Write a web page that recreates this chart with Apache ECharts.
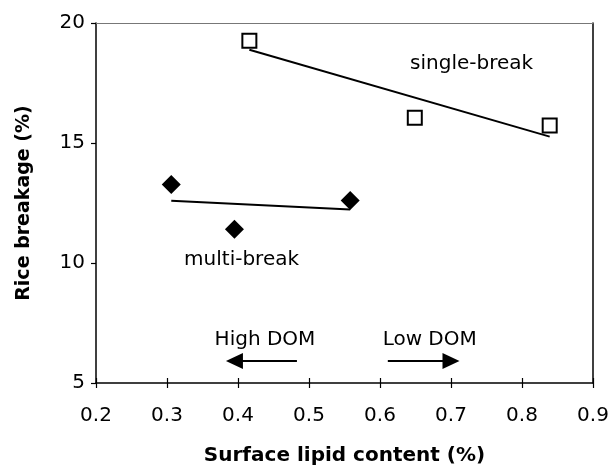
<!DOCTYPE html>
<html>
<head>
<meta charset="utf-8">
<script src="https://cdn.jsdelivr.net/npm/echarts@6/dist/echarts.min.js"></script>
<style>
html,body{margin:0;padding:0;background:#fff;}
#chart{width:613px;height:466px;}
</style>
</head>
<body>
<div id="chart"></div>
<script>
// ---- data ----
var singleX = [0.416, 0.649, 0.839];
var singleY = [19.26, 16.05, 15.73];
var multiX = [0.306, 0.395, 0.558];
var multiY = [13.27, 11.41, 12.60];
var xTicks = [0.2, 0.3, 0.4, 0.5, 0.6, 0.7, 0.8, 0.9];
var yTicks = [5, 10, 15, 20];
var xTitle = 'Surface lipid content (%)';
var yTitle = 'Rice breakage (%)';
var annotationTexts = ['single-break', 'multi-break', 'High DOM', 'Low DOM'];

function pairs(xs, ys) { return xs.map(function (x, i) { return [x, ys[i]]; }); }
function fitLine(xs, ys) {
  var n = xs.length, mx = 0, my = 0;
  for (var i = 0; i < n; i++) { mx += xs[i]; my += ys[i]; }
  mx /= n; my /= n;
  var sxy = 0, sxx = 0;
  for (var j = 0; j < n; j++) { sxy += (xs[j] - mx) * (ys[j] - my); sxx += (xs[j] - mx) * (xs[j] - mx); }
  var b = sxy / sxx, a = my - b * mx;
  var x0 = Math.min.apply(null, xs), x1 = Math.max.apply(null, xs);
  return [[x0, a + b * x0], [x1, a + b * x1]];
}

var FONT = 'DejaVu Sans';
var chart = echarts.init(document.getElementById('chart'), null, {renderer: 'canvas'});

var xCommon = {
  type: 'value', min: xTicks[0], max: xTicks[xTicks.length - 1], interval: 0.1,
  splitLine: {show: false}
};
var yCommon = {
  type: 'value', min: yTicks[0], max: yTicks[yTicks.length - 1], interval: 5,
  splitLine: {show: false}
};

var option = {
  backgroundColor: '#fff',
  animation: false,
  grid: {left: 96, right: 20, top: 23, bottom: 83, show: false, containLabel: false, outerBoundsMode: 'none'},
  xAxis: [
    Object.assign({}, xCommon, {
      position: 'bottom',
      axisLine: {show: true, onZero: false, lineStyle: {color: '#000', width: 1.5}},
      axisTick: {show: true, inside: false, length: 5, lineStyle: {color: '#000', width: 1.2}},
      axisLabel: {show: true, margin: 23, color: '#000', fontFamily: FONT, fontSize: 20,
        formatter: function (v) { return v.toFixed(1); }},
      name: xTitle, nameLocation: 'middle', nameGap: 63,
      nameTextStyle: {color: '#000', fontFamily: FONT, fontWeight: 'bold', fontSize: 20}
    }),
    Object.assign({}, xCommon, {
      position: 'bottom',
      axisLine: {show: false, onZero: false},
      axisTick: {show: true, inside: true, length: 5, lineStyle: {color: '#000', width: 1.2}},
      axisLabel: {show: false}
    }),
    Object.assign({}, xCommon, {
      position: 'top',
      axisLine: {show: true, onZero: false, lineStyle: {color: '#777', width: 1}},
      axisTick: {show: false},
      axisLabel: {show: false}
    })
  ],
  yAxis: [
    Object.assign({}, yCommon, {
      position: 'left',
      axisLine: {show: true, onZero: false, lineStyle: {color: '#000', width: 1.5}},
      axisTick: {show: true, inside: false, length: 5, lineStyle: {color: '#000', width: 1.2}},
      axisLabel: {show: true, margin: 11, color: '#000', fontFamily: FONT, fontSize: 20},
      name: yTitle, nameLocation: 'middle', nameGap: 62,
      nameTextStyle: {color: '#000', fontFamily: FONT, fontWeight: 'bold', fontSize: 19}
    }),
    Object.assign({}, yCommon, {
      position: 'right',
      axisLine: {show: true, onZero: false, lineStyle: {color: '#000', width: 1.5}},
      axisTick: {show: false},
      axisLabel: {show: false}
    })
  ],
  series: [
    {
      name: 'single-break fit', type: 'line', xAxisIndex: 0, yAxisIndex: 0,
      data: fitLine(singleX, singleY), symbol: 'none',
      lineStyle: {color: '#000', width: 2}, silent: true
    },
    {
      name: 'multi-break fit', type: 'line', xAxisIndex: 0, yAxisIndex: 0,
      data: fitLine(multiX, multiY), symbol: 'none',
      lineStyle: {color: '#000', width: 2}, silent: true
    },
    {
      name: 'single-break', type: 'scatter', xAxisIndex: 0, yAxisIndex: 0,
      data: pairs(singleX, singleY), symbol: 'rect', symbolSize: 14,
      itemStyle: {color: '#fff', borderColor: '#000', borderWidth: 2, opacity: 1}
    },
    {
      name: 'multi-break', type: 'scatter', xAxisIndex: 0, yAxisIndex: 0,
      data: pairs(multiX, multiY), symbol: 'diamond', symbolSize: 19,
      itemStyle: {color: '#000', opacity: 1}
    },
    {
      name: 'arrows', type: 'line', xAxisIndex: 0, yAxisIndex: 0, data: [],
      markLine: {
        silent: true, symbol: ['none', 'triangle'], symbolSize: [16, 17],
        lineStyle: {color: '#000', width: 2, type: 'solid'},
        label: {show: false},
        data: [
          [{coord: [0.483, 5.92]}, {coord: [0.395, 5.92]}],
          [{coord: [0.611, 5.92]}, {coord: [0.700, 5.92]}]
        ]
      }
    }
  ]
};
chart.setOption(option);

// text annotations placed in data coordinates
var annotationPos = [[0.729, 18.3], [0.405, 10.12], [0.438, 6.8], [0.670, 6.8]];
var graphics = annotationTexts.map(function (t, i) {
  var p = chart.convertToPixel({xAxisIndex: 0, yAxisIndex: 0}, annotationPos[i]);
  return {
    type: 'text', x: p[0], y: p[1],
    style: {text: t, fill: '#000', font: '20px "' + FONT + '"', textAlign: 'center', textVerticalAlign: 'middle'}
  };
});
chart.setOption({graphic: graphics});
</script>
</body>
</html>
